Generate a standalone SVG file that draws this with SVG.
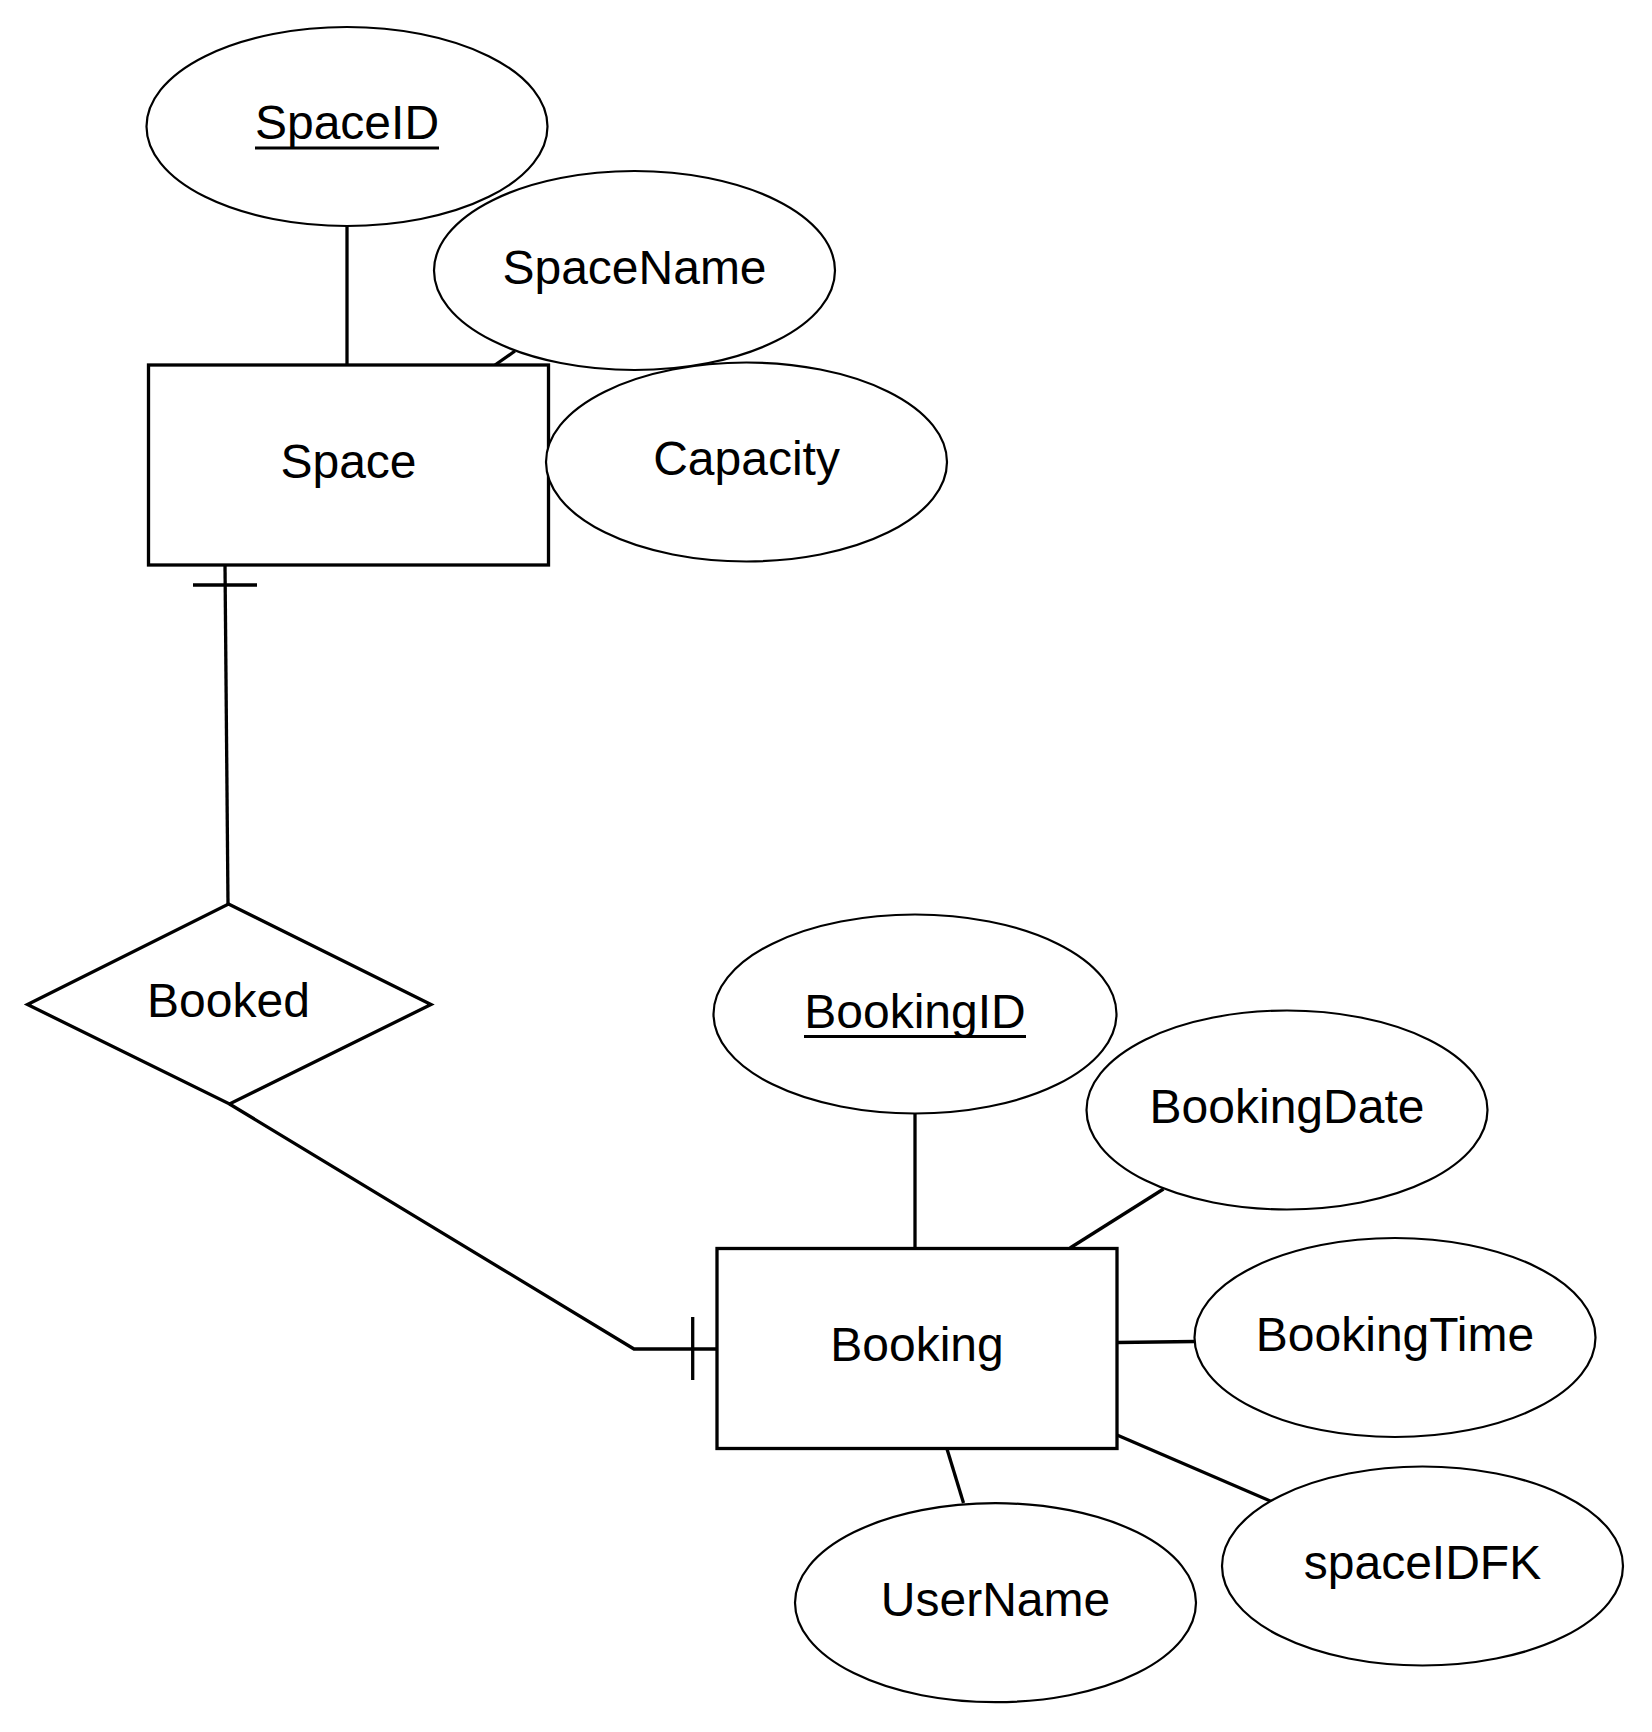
<svg xmlns="http://www.w3.org/2000/svg" width="1652" height="1732" viewBox="0 0 1652 1732">
<style>
.ell{fill:#fff;stroke:#000;stroke-width:2.2}
.ent{fill:#fff;stroke:#000;stroke-width:3.3}
.rel{fill:#fff;stroke:#000;stroke-width:3.3;stroke-linejoin:miter}
.con{fill:none;stroke:#000;stroke-width:3.3}
.t{font-family:"Liberation Sans",Arial,sans-serif;font-size:48px;fill:#000;text-anchor:middle}
</style>
<rect width="1652" height="1732" fill="#fff"/>
<g id="connectors">
<line class="con" x1="347" y1="226" x2="347" y2="365"/>
<line class="con" x1="495" y1="365" x2="515" y2="351"/>
<line class="con" x1="915" y1="1114" x2="915" y2="1248"/>
<line class="con" x1="1070" y1="1248" x2="1163.5" y2="1189"/>
<line class="con" x1="1117" y1="1342.5" x2="1195" y2="1341.5"/>
<line class="con" x1="1117" y1="1435" x2="1271.5" y2="1501.5"/>
<line class="con" x1="947" y1="1449" x2="963.5" y2="1503"/>
<line class="con" x1="225" y1="565" x2="228" y2="904"/>
<line class="con" x1="193" y1="585" x2="257" y2="585"/>
<polyline class="con" points="229.5,1104 634,1349 717,1349"/>
<line class="con" x1="692.7" y1="1317" x2="692.7" y2="1380"/>
</g>
<g id="SpaceID">
<ellipse class="ell" cx="347" cy="126.5" rx="200.5" ry="99.5"/>
<text class="t" x="347" y="139">SpaceID</text>
<line x1="255" y1="148" x2="439" y2="148" stroke="#000" stroke-width="3"/>
</g>
<g id="SpaceName">
<ellipse class="ell" cx="634.5" cy="270.5" rx="200.5" ry="99.5"/>
<text class="t" x="634.5" y="283.5">SpaceName</text>
</g>
<g id="Space">
<rect class="ent" x="148.5" y="365" width="400" height="200"/>
<text class="t" x="348.5" y="478">Space</text>
</g>
<g id="Capacity">
<ellipse class="ell" cx="746.5" cy="462" rx="200.5" ry="99.5"/>
<text class="t" x="746.5" y="475">Capacity</text>
</g>
<g id="Booked">
<polygon class="rel" points="228.5,904 431,1004.5 229.5,1104 27.5,1004.5"/>
<text class="t" x="228.5" y="1017">Booked</text>
</g>
<g id="BookingID">
<ellipse class="ell" cx="915" cy="1014" rx="201.5" ry="99.5"/>
<text class="t" x="915" y="1028">BookingID</text>
<line x1="804" y1="1036.5" x2="1026" y2="1036.5" stroke="#000" stroke-width="3"/>
</g>
<g id="BookingDate">
<ellipse class="ell" cx="1287" cy="1110" rx="200.5" ry="99.5"/>
<text class="t" x="1287" y="1123">BookingDate</text>
</g>
<g id="Booking">
<rect class="ent" x="717" y="1248.5" width="400" height="200"/>
<text class="t" x="917" y="1361">Booking</text>
</g>
<g id="BookingTime">
<ellipse class="ell" cx="1395" cy="1337.5" rx="200.5" ry="99.5"/>
<text class="t" x="1395" y="1350.5">BookingTime</text>
</g>
<g id="spaceIDFK">
<ellipse class="ell" cx="1422.5" cy="1566" rx="200.5" ry="99.5"/>
<text class="t" x="1422.5" y="1579">spaceIDFK</text>
</g>
<g id="UserName">
<ellipse class="ell" cx="995.5" cy="1602.7" rx="200.5" ry="99.5"/>
<text class="t" x="995.5" y="1615.5">UserName</text>
</g>
</svg>
